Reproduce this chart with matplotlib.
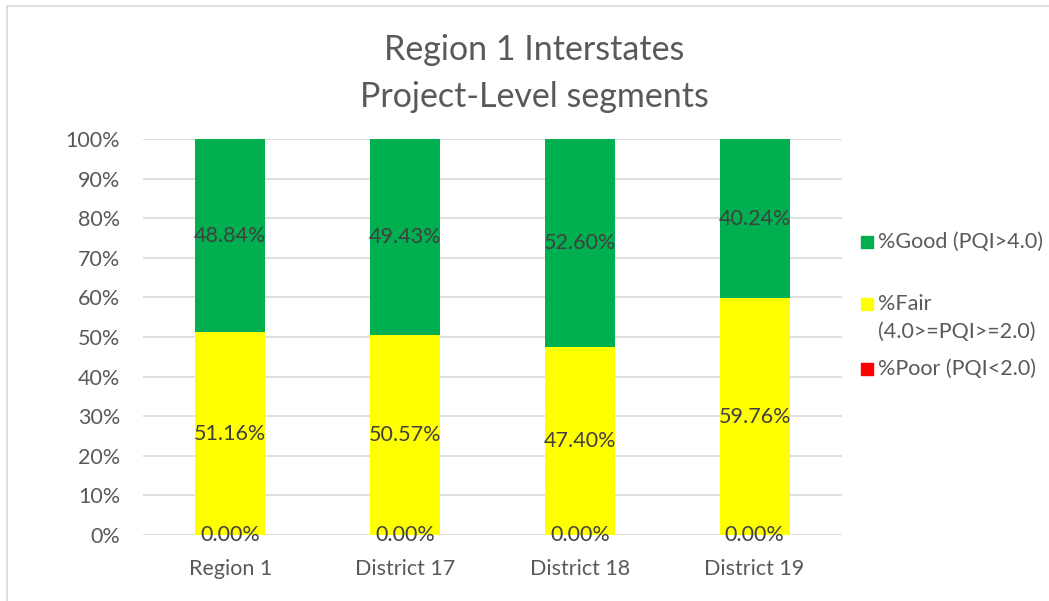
import numpy as np
import matplotlib.pyplot as plt
from matplotlib.patches import Rectangle

categories = ["Region 1", "District 17", "District 18", "District 19"]
poor = [0.00, 0.00, 0.00, 0.00]
fair = [51.16, 50.57, 47.40, 59.76]
good = [48.84, 49.43, 52.60, 40.24]
series_names = ["%Poor (PQI<2.0)", "%Fair\n(4.0>=PQI>=2.0)", "%Good (PQI>4.0)"]
colors = ["#FF0000", "#FFFF00", "#00B050"]

plt.rcParams["font.family"] = ["Lato", "DejaVu Sans"]
TXT = "#595959"
W, H = 1049, 601

fig = plt.figure(figsize=(W / 100, H / 100), dpi=100)
ax = fig.add_axes([143 / W, 1 - 535 / H, (842 - 143) / W, (535 - 139) / H])

x = np.arange(len(categories))
bottom = np.zeros(len(categories))
for vals, name, col in zip([poor, fair, good], series_names, colors):
    v = np.array(vals)
    ax.bar(x, v, 0.4, bottom=bottom, color=col, label=name, zorder=2)
    for xi, b, h in zip(x, bottom, v):
        ax.text(xi, b + h / 2, f"{h:.2f}%", ha="center", va="center",
                fontsize=15.5, color="#404040", zorder=3)
    bottom += v

ax.set_xlim(-0.5, len(categories) - 0.5)
ax.set_ylim(0, 100)
ax.set_yticks(np.arange(0, 101, 10))
ax.set_yticklabels([f"{t}%" for t in range(0, 101, 10)])
ax.set_xticks(x)
ax.set_xticklabels(categories)
ax.tick_params(axis="both", length=0, labelsize=15.5, colors=TXT)
ax.tick_params(axis="y", pad=16.5)
ax.tick_params(axis="x", pad=17)
ax.grid(axis="y", color="#D9D9D9", lw=1.2, zorder=0)
for s in ax.spines.values():
    s.set_visible(False)

fig.text(534 / W, 1 - 50 / H, "Region 1 Interstates", ha="center", va="center",
         fontsize=24.5, color=TXT)
fig.text(534 / W, 1 - 97 / H, "Project-Level segments", ha="center", va="center",
         fontsize=24.5, color=TXT)

# legend, drawn by hand to keep Excel's uneven spacing
leg_rows = [(series_names[2], colors[2], 242, 242),
            (series_names[1], colors[1], 318, 304),
            (series_names[0], colors[0], 369, 369)]
for name, col, ty, sy in leg_rows:
    fig.patches.append(Rectangle((861 / W, 1 - (sy + 6) / H), 12 / W, 12 / H,
                                 transform=fig.transFigure, color=col))
    fig.text(878 / W, 1 - ty / H, name, ha="left", va="center", fontsize=15.5,
             color=TXT, linespacing=1.45)

fig.patches.append(Rectangle((7 / W, -0.1), 1.2, 1 - 6 / H + 0.1,
                             transform=fig.transFigure, fill=False,
                             edgecolor="#D9D9D9", lw=1.2))

fig.savefig("out.png", dpi=100)
